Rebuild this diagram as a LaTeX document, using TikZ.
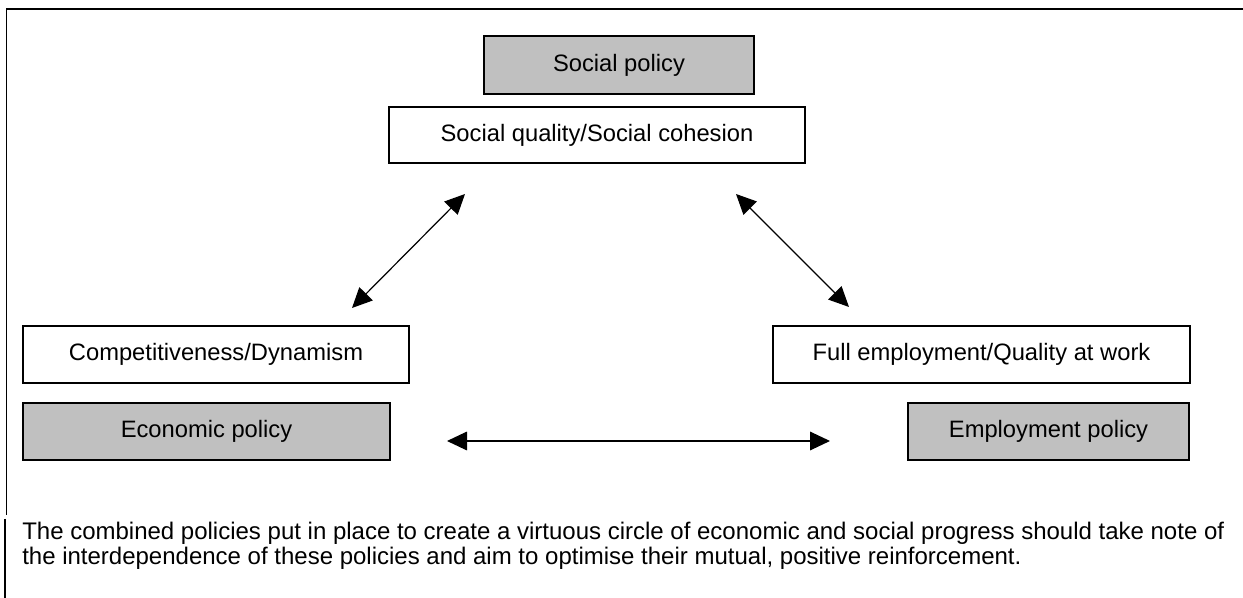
\documentclass[tikz,border=0pt]{standalone}
\usepackage{fontspec}
\setmainfont{Liberation Sans}
\usetikzlibrary{arrows.meta}
\definecolor{boxgray}{RGB}{192,192,192}
\tikzset{
  box/.style={draw=black, line width=0.9pt, rectangle, inner sep=0pt, outer sep=0pt, font=\fontsize{17.8}{20}\selectfont},
  policybox/.style={box, fill=boxgray},
  goalbox/.style={box, fill=white},
  link/.style={line width=0.9pt, {Triangle[length=15pt,width=14pt]}-{Triangle[length=15pt,width=14pt]}},
  frame/.style={line width=0.9pt}
}
\begin{document}
\begin{tikzpicture}[x=0.75pt,y=-0.75pt]
\useasboundingbox (0,0) rectangle (1243,598);
% frame lines
\draw[frame] (6,9) -- (1243,9);
\draw[frame] (6.5,9) -- (6.5,515);
\draw[line width=1.3pt] (5,519) -- (5,598);
% boxes
\node[policybox, minimum width=270*0.75pt, minimum height=58*0.75pt] (sp) at (619,65) {Social policy};
\node[goalbox, minimum width=416*0.75pt, minimum height=56*0.75pt] (sq) at (597,135) {Social quality/Social cohesion};
\node[goalbox, minimum width=386*0.75pt, minimum height=57*0.75pt] (cd) at (216,354.5) {Competitiveness/Dynamism};
\node[policybox, minimum width=367*0.75pt, minimum height=57*0.75pt] (ep) at (206.5,431.5) {Economic policy};
\node[goalbox, minimum width=417*0.75pt, minimum height=57*0.75pt] (fe) at (981.5,354.5) {Full employment/Quality at work};
\node[policybox, minimum width=281*0.75pt, minimum height=57*0.75pt] (emp) at (1048.5,431.5) {Employment policy};
% arrow endpoints
\coordinate (la) at (352,308);
\coordinate (lb) at (465,194);
\coordinate (ra) at (736,194);
\coordinate (rb) at (849,307);
\coordinate (ha) at (447,441);
\coordinate (hb) at (830,441);
\draw[link] (la) -- (lb);
\draw[link] (ra) -- (rb);
\draw[link] (ha) -- (hb);
% caption
\node[anchor=base west, inner sep=0pt, align=left, font=\fontsize{18}{18}\selectfont] (cap) at (22,564)
  {The combined policies put in place to create a virtuous circle of economic and social progress should take note of\\
   the interdependence of these policies and aim to optimise their mutual, positive reinforcement.};
\end{tikzpicture}
\end{document}
